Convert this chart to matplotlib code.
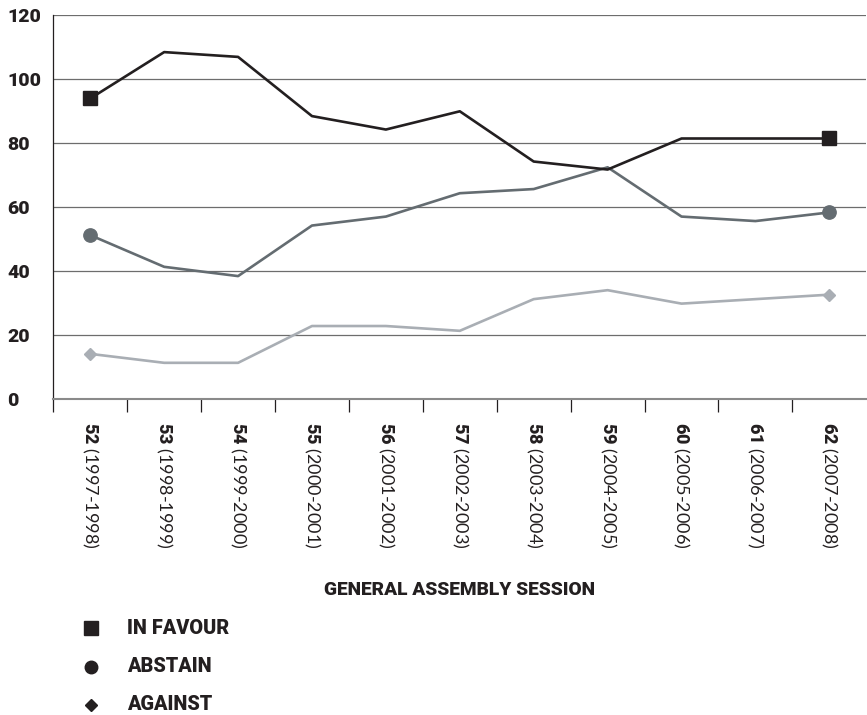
import matplotlib
matplotlib.use("Agg")
import matplotlib.pyplot as plt
from matplotlib.lines import Line2D
from matplotlib.ticker import FixedLocator

plt.rcParams['font.family'] = ['Lato', 'DejaVu Sans']
plt.rcParams['mathtext.fontset'] = 'custom'
plt.rcParams['mathtext.bf'] = 'Roboto:black'
plt.rcParams['mathtext.rm'] = 'Lato'

# Data
sessions = ['52', '53', '54', '55', '56', '57', '58', '59', '60', '61', '62']
years = ['1997-1998', '1998-1999', '1999-2000', '2000-2001', '2001-2002', '2002-2003',
         '2003-2004', '2004-2005', '2005-2006', '2006-2007', '2007-2008']
in_favour = [94, 108.5, 107, 88.5, 84.3, 90, 74.3, 71.8, 81.5, 81.5, 81.5]
abstain = [51.3, 41.4, 38.5, 54.3, 57.1, 64.4, 65.7, 72.5, 57.1, 55.7, 58.4]
against = [14.2, 11.4, 11.4, 22.9, 22.9, 21.4, 31.3, 34.1, 29.9, 31.3, 32.7]
y_ticks = [0, 20, 40, 60, 80, 100, 120]

col_favour = '#231f20'
col_abstain = '#646c71'
col_against = '#a9aeb4'
heavy = dict(family='Roboto', weight='black')

fig = plt.figure(figsize=(8.67, 7.15), dpi=100)
W, H = 867.0, 715.0
ax = fig.add_axes([53.3 / W, 1 - 399.3 / H, (866.3 - 53.3) / W, (399.3 - 15.3) / H])

x = list(range(len(sessions)))
ax.plot(x, in_favour, color=col_favour, lw=1.9, marker='s', ms=10, markevery=[0, -1], zorder=5)
ax.plot(x, abstain, color=col_abstain, lw=1.9, marker='o', ms=9.6, markevery=[0, -1], zorder=4)
ax.plot(x, against, color=col_against, lw=1.9, marker='D', ms=6, markevery=[0, -1], zorder=3)

ax.set_xlim(-0.5, len(sessions) - 0.5)
ax.set_ylim(0, 120)
ax.set_yticks(y_ticks)
ax.set_yticklabels([str(v) for v in y_ticks], fontsize=14, color='#231f20', ha='left', **heavy)
ax.grid(axis='y', color='#6d6d6d', lw=0.9)
ax.set_axisbelow(True)

for side in ['top', 'right']:
    ax.spines[side].set_visible(False)
ax.spines['left'].set_color('#231f20')
ax.spines['left'].set_linewidth(0.9)
ax.spines['bottom'].set_color('#8a8a8a')
ax.spines['bottom'].set_linewidth(1.5)

# x ticks: labels at centres, tick marks between categories
ax.set_xticks(x)
ax.set_xticklabels(['$\\mathbf{%s}$ (%s)' % (s, y) for s, y in zip(sessions, years)],
                   rotation=270, fontsize=13, color='#231f20')
ax.xaxis.set_minor_locator(FixedLocator([i - 0.5 for i in x]))
ax.tick_params(axis='x', which='major', length=0, pad=16.3)
ax.tick_params(axis='x', which='minor', length=9.1, width=0.9, color='#231f20')
ax.tick_params(axis='y', length=0, pad=33.3)

fig.text((53.3 + 866.3) / 2 / W, 1 - 590 / H, 'GENERAL ASSEMBLY SESSION',
         ha='center', va='center', fontsize=13.8, color='#231f20', **heavy)

# legend
leg_items = [('s', 9.5, 'IN FAVOUR'), ('o', 9, 'ABSTAIN'), ('D', 6.5, 'AGAINST')]
for i, (m, ms, lab) in enumerate(leg_items):
    yy = 1 - (628.3 + 38.3 * i) / H
    fig.add_artist(Line2D([90.7 / W], [yy], transform=fig.transFigure, marker=m, ms=ms,
                          color=col_favour, ls='none'))
    fig.text(127.3 / W, yy, lab, ha='left', va='center', fontsize=14.3,
             color='#231f20', **heavy)

fig.savefig('out.png', dpi=100)
